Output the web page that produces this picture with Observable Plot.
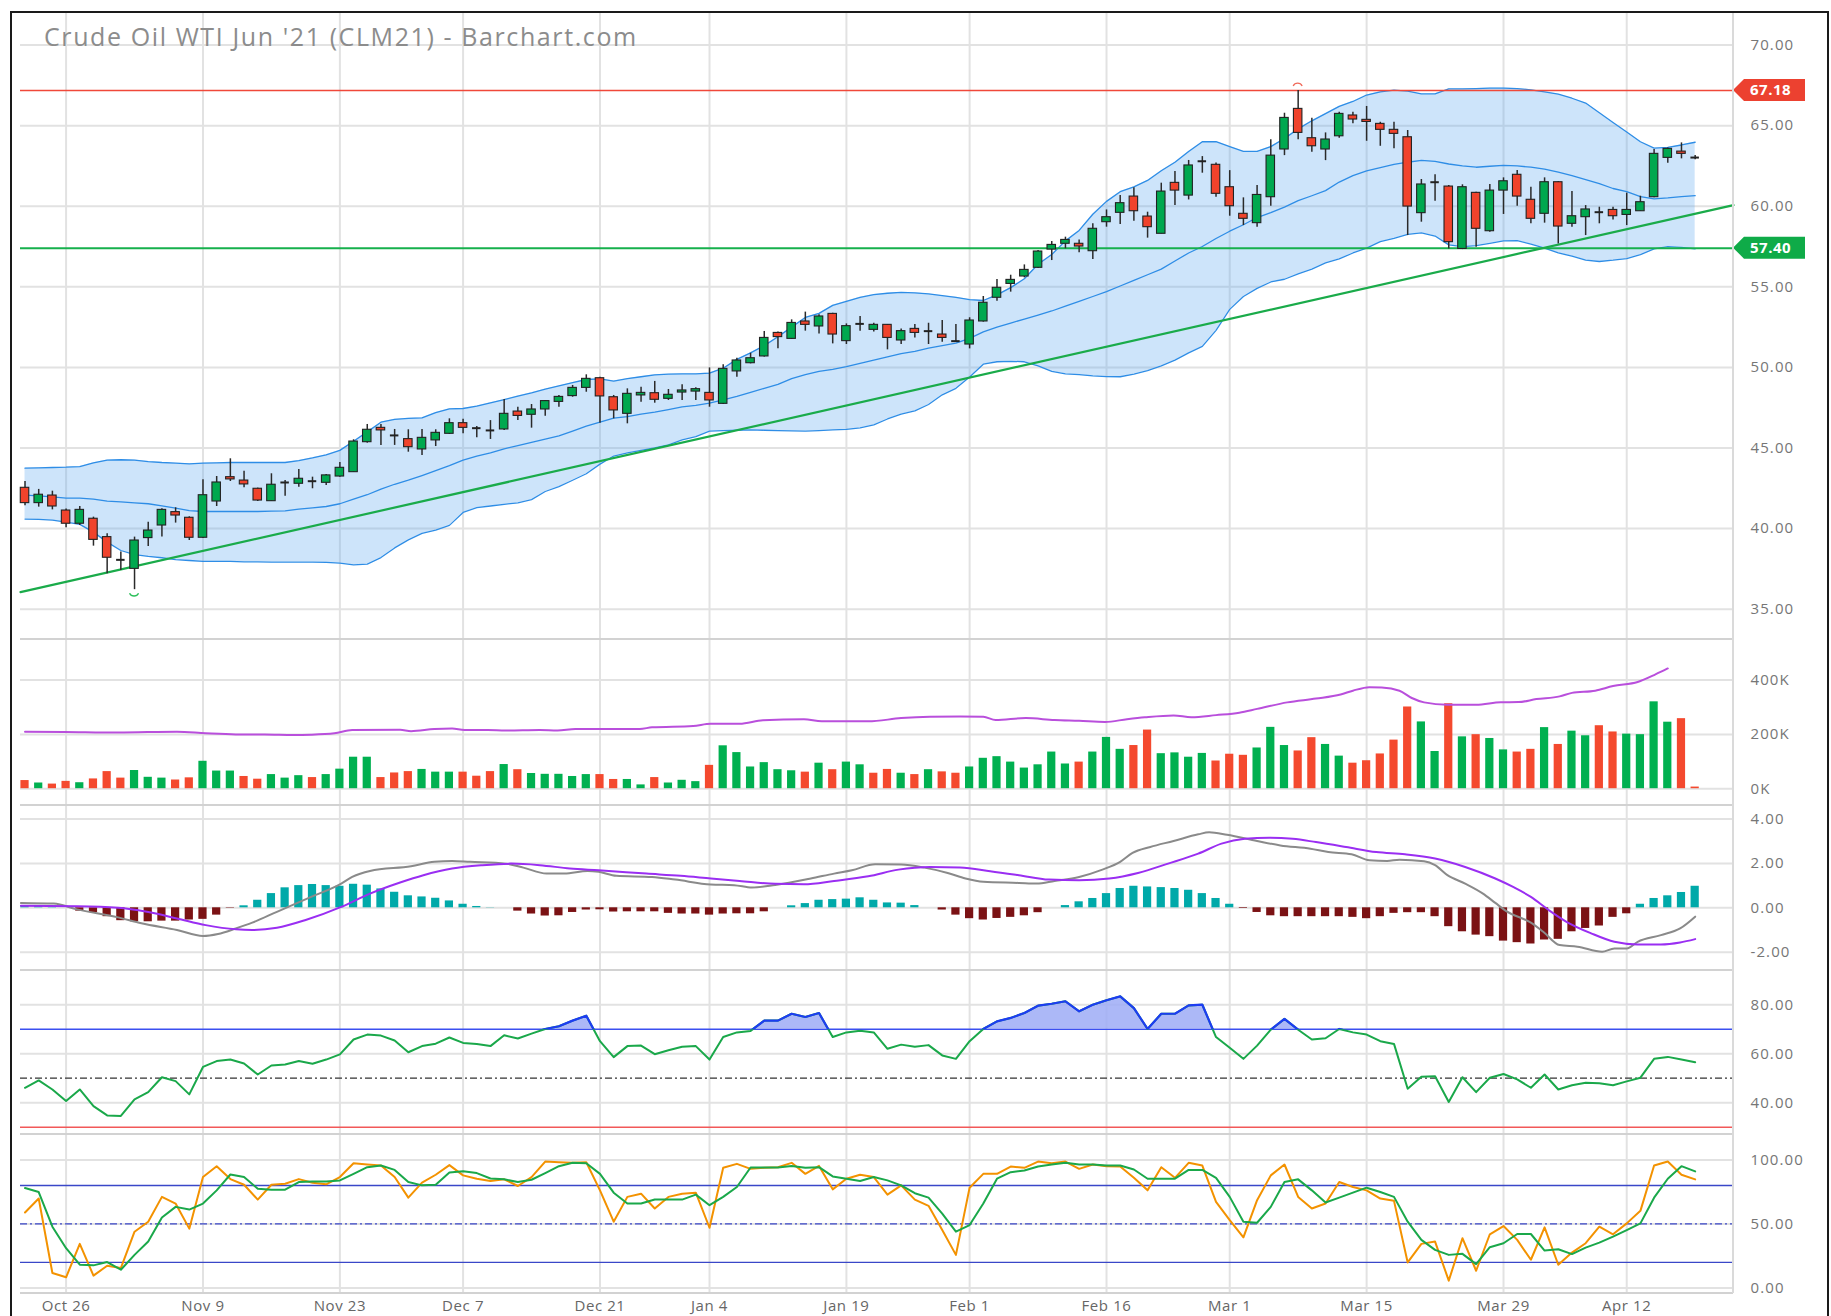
<!DOCTYPE html>
<html><head><meta charset="utf-8">
<script src="https://cdn.jsdelivr.net/npm/d3@7"></script>
<script src="https://cdn.jsdelivr.net/npm/@observablehq/plot@0.6"></script>
<style>
html,body{margin:0;padding:0;background:#fff;}
#chart{position:relative;width:1831px;height:1316px;overflow:hidden;background:#fff;}
.panel{position:absolute;left:0;}
.frame{position:absolute;left:10px;top:11px;width:1819px;height:1320px;border:2px solid #1a1a1a;box-sizing:border-box;pointer-events:none;}
.sep{position:absolute;left:20px;width:1713px;height:2px;background:#d2d2d2;}
.vline{position:absolute;left:1732px;top:12px;width:2px;height:1281px;background:#dadada;}
#title{position:absolute;left:44px;top:24px;font-family:"Open Sans",sans-serif;font-size:25px;line-height:25px;color:#8c8c8c;letter-spacing:1.6px;white-space:nowrap;}
</style>
</head><body>
<div id="chart"></div>
<script>
// ---------- DATA ----------
const tickIdx = [3,13,23,32,42,50,60,69,79,88,98,108,117];
const tickLabels = ["Oct 26","Nov 9","Nov 23","Dec 7","Dec 21","Jan 4","Jan 19","Feb 1","Feb 16","Mar 1","Mar 15","Mar 29","Apr 12"];
const titleText = "Crude Oil WTI Jun '21 (CLM21) - Barchart.com";

const open = [42.53,41.58,42.05,41.12,40.30,40.61,39.47,38.10,37.50,39.41,
40.19,41.02,40.67,39.43,41.68,43.19,42.98,42.47,41.70,42.84,
42.78,42.96,42.84,43.23,43.50,45.36,46.25,45.80,45.55,44.91,
45.47,45.88,46.54,46.25,46.11,46.15,47.26,47.06,47.39,47.86,
48.22,48.73,49.33,48.15,47.12,48.26,48.40,48.05,48.44,48.50,
48.42,47.74,49.75,50.26,50.68,52.14,51.77,52.85,52.54,53.32,
51.63,52.68,52.33,52.64,51.67,52.39,52.23,52.04,51.65,51.42,
52.85,54.32,55.18,55.64,56.18,57.31,57.67,57.67,57.21,59.01,
59.59,60.60,59.36,58.29,61.45,60.66,62.77,62.57,61.18,59.53,
58.95,60.56,63.52,66.04,64.22,63.52,64.34,65.63,65.36,65.11,
64.74,64.28,59.57,61.47,61.22,57.35,60.83,58.45,60.97,61.95,
60.40,59.53,61.49,58.91,59.32,59.65,59.77,59.46,59.69,60.56,
63.00,63.39,63.04];
const high = [42.92,42.43,42.32,41.21,41.37,40.71,39.68,38.54,39.47,40.40,
41.23,41.29,40.73,43.03,43.23,44.33,43.56,42.51,43.40,42.98,
43.67,43.19,43.36,44.10,45.51,46.46,46.46,46.15,46.13,46.15,
46.13,46.81,46.79,46.33,46.70,48.01,47.53,47.70,47.95,48.26,
48.88,49.54,49.39,48.26,48.67,48.77,49.13,48.63,48.92,48.73,
49.97,50.16,50.57,50.88,52.23,52.19,52.95,53.43,53.26,53.36,
52.70,53.16,52.74,52.66,52.39,52.66,52.74,52.91,52.66,53.08,
54.40,55.45,55.72,56.36,57.25,57.81,58.08,57.91,58.91,59.77,
60.66,61.14,59.63,61.43,62.15,62.84,63.08,62.69,62.21,60.52,
61.28,64.12,65.77,67.18,65.46,64.55,65.83,65.83,66.19,65.21,
65.21,64.70,61.66,61.95,61.28,61.33,60.87,61.35,61.76,62.21,
61.18,61.76,61.53,60.91,60.04,59.94,59.94,60.81,60.62,63.52,
63.62,63.93,63.15];
const low = [41.41,41.33,41.16,40.05,40.19,38.91,37.20,37.40,36.21,38.89,
39.47,40.34,39.26,39.39,41.37,42.92,42.53,41.68,41.70,42.01,
42.57,42.47,42.67,43.19,43.50,45.30,45.16,45.16,44.74,44.54,
45.09,45.84,45.88,45.63,45.53,46.09,46.70,46.23,46.97,47.53,
48.15,48.46,46.54,46.81,46.50,47.84,47.78,47.95,47.95,47.95,
47.53,47.70,49.39,50.22,50.64,51.15,51.73,52.25,52.08,51.46,
51.42,52.25,52.19,51.09,51.42,51.83,51.42,51.56,51.56,51.15,
52.81,54.11,54.67,55.56,56.14,56.63,57.36,57.11,56.69,58.70,
58.86,59.07,58.02,58.29,60.04,60.39,62.05,60.56,59.38,58.80,
58.70,60.00,63.14,64.12,63.35,62.83,64.22,65.11,64.03,63.72,
63.56,58.18,59.01,60.31,57.35,57.31,57.46,58.39,59.49,60.00,
58.91,58.95,57.66,58.70,58.18,58.91,59.15,58.80,59.69,60.52,
62.67,62.94,62.88];
const close = [41.58,42.10,41.37,40.30,41.16,39.30,38.19,38.06,39.26,39.88,
41.16,40.81,39.43,42.07,42.86,43.05,42.74,41.74,42.72,42.86,
43.09,42.94,43.30,43.77,45.40,46.13,46.09,45.78,45.05,45.63,
45.94,46.54,46.25,46.23,46.09,47.12,46.99,47.39,47.91,48.17,
48.73,49.29,48.20,47.33,48.36,48.42,47.99,48.30,48.57,48.65,
47.95,49.91,50.43,50.57,51.83,51.88,52.76,52.64,53.16,52.04,
52.56,52.70,52.64,51.83,52.25,52.14,52.25,51.83,51.63,52.91,
54.01,54.94,55.43,56.05,57.19,57.60,57.91,57.50,58.60,59.32,
60.19,59.69,58.70,60.91,60.97,62.53,62.79,60.77,60.00,59.22,
60.70,63.14,65.48,64.55,63.72,64.14,65.73,65.38,65.23,64.74,
64.49,59.98,61.35,61.49,57.77,61.18,58.60,60.97,61.55,60.60,
59.22,61.49,58.74,59.38,59.80,59.63,59.38,59.77,60.25,63.25,
63.56,63.25,63.02];

const bbUpper = [43.75,43.77,43.79,43.81,43.85,44.08,44.25,44.27,44.25,44.16,
44.10,44.06,44.02,44.06,44.08,44.10,44.10,44.10,44.10,44.10,
44.22,44.39,44.58,44.85,45.42,46.0,46.6,46.78,46.84,46.87,
47.2,47.43,47.45,47.6,47.8,48.0,48.22,48.42,48.65,48.85,
49.05,49.25,49.29,49.15,49.3,49.42,49.54,49.58,49.6,49.6,
49.65,49.95,50.5,50.9,51.35,51.9,52.5,53.1,53.35,53.85,
54.1,54.35,54.52,54.6,54.65,54.63,54.56,54.45,54.35,54.2,
54.15,54.5,54.95,55.5,56.4,57.0,57.85,58.5,59.5,60.3,
60.9,61.2,61.6,62.2,62.73,63.4,64.0,64.01,63.7,63.4,
63.4,63.7,64.2,64.8,65.3,65.75,66.2,66.5,66.9,67.1,
67.2,67.14,66.97,66.97,67.28,67.28,67.3,67.33,67.33,67.3,
67.22,67.1,66.95,66.7,66.4,65.8,65.2,64.6,64.0,63.6,
63.65,63.8,63.97];
const bbMiddle = [42.07,42.03,41.97,41.89,41.89,41.83,41.70,41.66,41.60,41.54,
41.41,41.27,41.12,41.06,41.06,41.06,41.06,41.06,41.08,41.10,
41.21,41.29,41.37,41.54,41.83,42.1,42.45,42.75,43.0,43.29,
43.6,43.9,44.25,44.5,44.7,44.95,45.15,45.35,45.55,45.75,
46.05,46.35,46.6,46.85,46.95,47.1,47.22,47.38,47.55,47.65,
47.78,47.98,48.2,48.45,48.7,48.95,49.3,49.55,49.75,49.88,
50.05,50.25,50.45,50.65,50.85,51.0,51.2,51.35,51.5,51.8,
52.2,52.5,52.75,53.0,53.25,53.5,53.8,54.1,54.4,54.7,
55.05,55.4,55.75,56.1,56.6,57.1,57.5,58.0,58.45,58.85,
59.3,59.6,59.95,60.35,60.65,60.97,61.5,61.9,62.2,62.4,
62.6,62.73,62.84,62.78,62.62,62.5,62.42,62.48,62.53,62.5,
62.42,62.3,62.11,61.9,61.65,61.4,61.1,60.9,60.6,60.46,
60.52,60.6,60.66];
const bbLower = [40.59,40.57,40.52,40.40,40.26,39.78,39.16,38.64,38.39,38.27,
38.19,38.08,38.02,37.96,37.96,37.96,37.94,37.94,37.92,37.92,
37.92,37.92,37.90,37.86,37.75,37.80,38.2,38.8,39.3,39.7,
39.9,40.2,41.0,41.3,41.4,41.5,41.6,41.8,42.3,42.6,
43.0,43.4,44.0,44.5,44.7,44.85,45.0,45.2,45.5,45.7,
46.05,46.08,46.1,46.12,46.1,46.08,46.06,46.05,46.08,46.12,
46.15,46.25,46.43,46.8,47.1,47.3,47.7,48.3,48.7,49.4,
50.2,50.35,50.38,50.35,50.1,49.75,49.6,49.55,49.47,49.43,
49.42,49.59,49.8,50.1,50.45,50.9,51.3,52.3,53.6,54.4,
54.9,55.3,55.47,55.8,56.1,56.48,56.73,57.1,57.4,57.8,
58.0,58.25,58.35,58.15,57.6,57.5,57.56,57.7,57.85,57.87,
57.65,57.4,57.1,56.9,56.65,56.57,56.65,56.75,57.0,57.35,
57.5,57.45,57.36];

const resistanceLevel = [67.18];
const supportLevel = [57.40];
const trendIdx = [-0.33, 124.8];
const trendPrice = [36.06, 60.07];

const volumeK = [30,21,17,27,22,36,63,39,67,42,
39,32,40,101,65,65,45,35,52,39,
48,41,52,72,116,116,41,58,63,71,
61,61,61,46,63,89,70,56,53,53,
45,52,52,34,34,14,41,21,31,26,
86,158,133,80,96,70,66,61,94,70,
98,88,57,71,57,52,70,62,57,80,
112,118,98,76,88,135,91,98,135,189,
145,159,216,129,132,116,130,102,127,123,
150,226,159,139,188,163,120,94,103,128,
179,301,246,137,313,191,199,185,143,135,
145,225,163,212,195,232,209,201,199,320,
245,258,6];

const oiIdx = [0,2.9,6.8,11.1,13.2,15.4,17.5,19.6,20.9,22.6,23.9,27.4,28.2,29.9,31.2,32.1,33.8,35.1,37.6,38.9,40.2,44.9,45.8,48.8,50.1,52.2,53.9,56.9,58.2,61.6,64.0,66.1,68.3,70.0,70.9,73.1,75.2,77.0,78.9,80.5,81.8,83.9,85.2,87.0,88.7,90.0,92.2,94.3,96.1,97.0,98.2,99.1,100.4,101.3,102.2,103.9,106.0,107.8,109.1,110.4,112.1,113.0,114.7,116.0,117.8,119.1,120.0];
const oiK = [210,209,207,210,204,200,200,198,199,204,216,217,212,220,222,216,216,214,216,214,220,220,226,231,239,239,252,256,248,248,260,265,266,265,253,260,253,250,246,256,263,270,263,271,280,294,318,332,347,361,374,373,361,334,318,309,309,318,319,330,340,353,361,378,393,421,443];

const macdIdx = [-0.3,2.1,3.8,6.8,8.5,11.1,13.0,14.1,15.4,16.6,18.4,20.9,23.1,23.9,25.2,28.2,29.9,31.2,32.5,35.1,36.4,38.1,39.4,41.1,41.9,43.2,45.8,47.5,50.1,51.8,53.1,54.8,57.4,59.1,60.4,62.1,64.0,65.7,67.4,68.7,70.0,72.6,73.9,75.2,77.0,78.7,80.0,80.9,82.2,83.9,85.7,86.5,87.8,90.0,91.7,93.9,95.2,96.9,98.2,99.5,100.4,102.2,103.0,103.9,105.2,106.5,107.4,108.2,110.0,110.9,112.1,113.4,115.2,116.1,117.0,117.8,119.5,120.9,122.0];
const macdVal = [0.22,0.19,-0.07,-0.43,-0.70,-1.00,-1.27,-1.18,-0.93,-0.67,-0.18,0.49,1.09,1.39,1.66,1.87,2.07,2.11,2.07,1.99,1.81,1.54,1.54,1.66,1.62,1.44,1.39,1.27,1.05,1.02,0.91,1.03,1.32,1.54,1.69,1.96,1.95,1.81,1.57,1.32,1.17,1.12,1.09,1.21,1.39,1.72,2.07,2.47,2.74,3.01,3.31,3.40,3.29,3.01,2.81,2.66,2.51,2.41,2.14,2.11,2.17,2.10,1.92,1.47,1.09,0.64,0.22,-0.15,-0.67,-1.08,-1.68,-1.75,-1.98,-1.83,-1.83,-1.53,-1.23,-0.93,-0.40];
const signalIdx = [-0.3,3.8,6.8,8.9,11.1,13.2,15.4,16.6,18.4,20.5,23.1,25.2,27.4,29.1,31.2,33.4,35.5,37.6,39.8,41.9,45.4,47.9,50.1,52.2,54.8,56.9,59.1,61.6,63.8,66.1,68.3,70.5,72.6,74.8,77.0,79.2,81.3,83.5,85.7,87.4,89.1,90.9,92.6,94.3,96.5,98.7,100.8,103.0,105.2,107.4,108.7,110.0,111.3,112.6,114.4,116.1,117.8,119.5,120.9,122.0];
const signalVal = [0.09,0.07,0.0,-0.18,-0.48,-0.78,-0.97,-1.00,-0.90,-0.55,0.04,0.64,1.14,1.47,1.77,1.92,1.99,1.92,1.77,1.69,1.54,1.44,1.32,1.21,1.08,1.06,1.21,1.42,1.72,1.84,1.81,1.65,1.47,1.27,1.24,1.32,1.57,1.99,2.44,2.89,3.11,3.16,3.11,2.96,2.74,2.51,2.41,2.22,1.84,1.32,0.94,0.49,-0.10,-0.63,-1.15,-1.53,-1.65,-1.65,-1.56,-1.41];
const macdHist = [0.10,0.10,0.07,0.0,-0.15,-0.22,-0.40,-0.58,-0.63,-0.63,
-0.60,-0.60,-0.55,-0.52,-0.33,-0.02,0.09,0.34,0.64,0.90,
1.00,1.05,1.00,0.97,1.06,1.02,0.85,0.70,0.54,0.49,
0.43,0.31,0.16,0.06,0.01,0.0,-0.15,-0.28,-0.37,-0.36,
-0.21,-0.10,-0.09,-0.19,-0.18,-0.18,-0.18,-0.25,-0.28,-0.28,
-0.33,-0.28,-0.27,-0.27,-0.18,0.0,0.09,0.19,0.34,0.37,
0.39,0.45,0.34,0.22,0.21,0.10,0.0,-0.10,-0.33,-0.49,
-0.55,-0.48,-0.43,-0.36,-0.22,0.0,0.10,0.27,0.42,0.64,
0.87,0.97,0.94,0.91,0.87,0.79,0.64,0.42,0.16,-0.03,
-0.21,-0.36,-0.40,-0.40,-0.40,-0.40,-0.40,-0.43,-0.49,-0.40,
-0.25,-0.22,-0.22,-0.40,-0.85,-1.08,-1.23,-1.30,-1.50,-1.57,
-1.63,-1.45,-1.42,-1.08,-0.93,-0.82,-0.43,-0.27,0.16,0.42,
0.54,0.69,0.97];

const rsi = [46.1,49.1,45.4,40.7,45.4,38.6,34.8,34.6,41.4,44.3,
50.4,48.8,43.4,54.6,57.0,57.6,56.0,51.5,55.2,55.6,
57.0,55.9,57.6,59.7,65.8,67.8,67.4,65.4,60.6,63.1,
64.1,66.6,64.4,64.0,63.1,67.5,66.2,68.2,70.1,71.2,
73.5,75.5,65.1,58.6,63.1,63.3,59.8,61.4,62.8,63.1,
57.6,66.8,68.7,69.3,73.5,73.5,76.3,75.0,76.6,66.8,
68.7,69.4,68.7,62.0,63.7,62.8,63.5,59.3,57.9,65.1,
70.1,73.2,74.6,76.6,79.6,80.4,81.4,77.3,80.0,81.8,
83.4,78.6,70.1,76.3,76.3,79.7,80.0,66.8,62.4,57.9,
63.3,69.8,74.2,69.8,65.8,66.3,70.1,68.7,67.8,65.1,
64.0,45.7,50.6,50.8,40.3,50.4,44.3,50.2,51.7,49.5,
46.1,51.5,45.4,47.1,48.1,47.9,47.1,48.7,50.2,57.9,
58.7,57.6,56.5];
const rsiLevels = {upper: 70, mid: 50, lower: 30};

const stochK = [58.9,69.8,11.6,8.3,34.4,9.6,17.3,15.5,43.9,51.7,
71.1,65.9,46.3,86.6,95.1,85.0,80.6,69.0,80.6,81.4,
85.0,82.2,80.9,86.6,97.4,96.4,95.6,86.6,70.5,82.2,
88.4,95.9,87.9,85.3,83.5,84.8,79.6,86.6,98.7,98.2,
97.7,98.2,76.2,51.7,71.1,73.6,62.0,71.1,73.6,74.4,
47.0,93.8,96.9,93.0,93.8,94.3,97.7,89.1,95.3,77.0,
85.3,88.4,86.6,72.9,80.1,69.0,64.1,45.2,25.8,78.3,
89.1,89.1,94.8,93.8,98.7,97.4,98.7,93.0,96.4,95.1,
94.8,86.0,76.2,94.3,86.0,97.7,95.6,67.2,53.0,39.5,
68.5,87.9,96.4,71.1,62.0,65.9,82.7,78.8,76.2,69.8,
68.0,19.9,34.4,36.2,5.7,38.8,13.4,41.9,48.3,37.5,
22.0,47.3,18.1,27.6,34.9,47.8,41.9,50.4,60.2,95.6,
98.7,88.4,84.8];
const stochD = [78.0,74.9,47.8,31.0,18.1,17.6,20.2,14.2,25.8,36.2,
55.0,63.3,61.2,65.9,76.2,88.6,86.6,77.5,76.7,76.7,
82.7,83.2,83.2,84.0,89.1,94.3,95.6,92.2,82.7,80.1,
80.6,90.2,91.2,89.7,85.5,84.8,82.7,84.5,89.7,95.1,
97.7,97.4,89.1,74.4,65.9,65.9,69.0,69.0,69.0,72.9,
64.6,71.1,78.8,94.1,94.1,94.1,95.3,93.8,94.3,87.1,
85.3,83.5,86.6,84.0,80.1,74.0,70.5,58.1,43.9,49.1,
65.9,85.3,90.4,91.7,94.8,96.4,97.7,96.4,96.4,95.6,
95.6,92.5,85.3,85.3,85.3,92.2,92.2,86.0,71.1,51.7,
50.9,63.3,82.7,84.8,76.2,66.7,70.5,74.4,78.3,74.9,
71.1,51.7,37.5,29.7,25.8,26.6,18.6,31.8,34.9,42.1,
42.1,29.2,30.2,26.4,31.5,35.4,40.1,45.2,50.4,70.5,
85.3,95.1,91.0];
const stochLevels = {upper: 80, mid: 50, lower: 20};

const priceTicks = [35,40,45,50,55,60,65,70];
const volTicks = [0,200,400];
const macdTicks = [-2,0,2,4];
const rsiTicks = [40,60,80];
const stochTicks = [0,50,100];

// ---------- STYLE / LAYOUT ----------
const W = 1831;
const XD = [-0.33, 124.8];
const GRID = "#e2e2e2";
const GREEN = "#00a84f", RED = "#f0432c";
const VGREEN = "#00b050", VRED = "#f4492e";
const BAND = "#2e8de6";
const axisStyle = "font-family:'Open Sans',sans-serif;font-size:15px;letter-spacing:1.1px;color:#767676;overflow:visible;background:transparent;max-width:none;";
const fmt2 = d => d.toFixed(2);
const root = document.getElementById("chart");

function place(svg, top) {
  const wrap = document.createElement("div");
  wrap.className = "panel";
  wrap.style.top = top + "px";
  wrap.appendChild(svg);
  root.appendChild(wrap);
}
function opts(h, yDomain, yTicks, yFmt, marks, mb = 0, xAxis = false) {
  return {
    width: W, height: h, marginLeft: 20, marginRight: 98, marginTop: 0, marginBottom: mb,
    x: xAxis ? {domain: XD, ticks: tickIdx, tickFormat: d => tickLabels[tickIdx.indexOf(d)], tickSize: 0, tickPadding: 7, label: null}
             : {domain: XD, axis: null},
    y: {domain: yDomain, axis: "right", ticks: yTicks, tickFormat: yFmt, tickSize: 0, tickPadding: 17, label: null},
    style: axisStyle,
    marks
  };
}
const vGrid = Plot.ruleX(tickIdx, {stroke: GRID, strokeWidth: 2});

// ---------- PRICE PANEL ----------
const candles = open.map((o, i) => ({i, o, h: high[i], l: low[i], c: close[i]}));
const isDoji = d => Math.abs(d.c - d.o) < 0.05;
const bands = bbUpper.map((u, i) => ({i, u, m: bbMiddle[i], l: bbLower[i]}));
const trend = trendIdx.map((x, k) => ({i: x, p: trendPrice[k]}));
const hw = 0.31;

const pricePlot = Plot.plot(opts(626, [33.18, 72.02], priceTicks, fmt2, [
  Plot.ruleY(priceTicks, {stroke: GRID, strokeWidth: 2}),
  vGrid,
  Plot.areaY(bands, {x: "i", y1: "l", y2: "u", fill: "#5aa5ee", fillOpacity: 0.3}),
  Plot.line(bands, {x: "i", y: "u", stroke: BAND, strokeWidth: 1.3}),
  Plot.line(bands, {x: "i", y: "m", stroke: BAND, strokeWidth: 1.3}),
  Plot.line(bands, {x: "i", y: "l", stroke: BAND, strokeWidth: 1.3}),
  Plot.ruleY(resistanceLevel, {stroke: "#f0483a", strokeWidth: 1.6}),
  Plot.ruleY(supportLevel, {stroke: "#16b04c", strokeWidth: 2}),
  Plot.line(trend, {x: "i", y: "p", stroke: "#1aab4a", strokeWidth: 2.2}),
  Plot.ruleX(candles, {x: "i", y1: "l", y2: "h", stroke: "#2a2a2a", strokeWidth: 1.5}),
  Plot.rect(candles.filter(d => !isDoji(d) && d.c > d.o), {x1: d => d.i - hw, x2: d => d.i + hw, y1: "o", y2: "c", fill: GREEN, stroke: "#222", strokeWidth: 1.1}),
  Plot.rect(candles.filter(d => !isDoji(d) && d.c < d.o), {x1: d => d.i - hw, x2: d => d.i + hw, y1: "o", y2: "c", fill: RED, stroke: "#222", strokeWidth: 1.1}),
  Plot.ruleY(candles.filter(isDoji), {x1: d => d.i - hw, x2: d => d.i + hw, y: "c", stroke: "#222", strokeWidth: 2})
]));
place(pricePlot, 12);
{
  const xs = pricePlot.scale("x"), ys = pricePlot.scale("y");
  const svg = d3.select(pricePlot);
  const edge = xs.apply(XD[1]);
  function tag(v, color) {
    const y = ys.apply(v);
    svg.append("path").attr("d", `M${edge},${y} L${edge + 11},${y - 11} L${edge + 72},${y - 11} L${edge + 72},${y + 11} L${edge + 11},${y + 11} Z`).attr("fill", color);
    svg.append("text").attr("x", edge + 17).attr("y", y).attr("dy", "0.36em").attr("fill", "#fff")
      .attr("text-anchor", "start").attr("font-weight", "bold").attr("font-size", 15)
      .attr("letter-spacing", "0.5px").text(v.toFixed(2));
  }
  tag(resistanceLevel[0], "#ec4130");
  tag(supportLevel[0], "#0fab48");
  const hi = d3.maxIndex(high), lo = d3.minIndex(low);
  const hx = xs.apply(hi), hy = ys.apply(high[hi]) - 6;
  svg.append("path").attr("d", `M${hx - 4.5},${hy + 2} A5,5 0 0 1 ${hx + 4.5},${hy + 2}`).attr("fill", "none").attr("stroke", "#f06a5a").attr("stroke-width", 1.3);
  const lx = xs.apply(lo), ly = ys.apply(low[lo]) + 6;
  svg.append("path").attr("d", `M${lx - 4.5},${ly - 2} A5,5 0 0 0 ${lx + 4.5},${ly - 2}`).attr("fill", "none").attr("stroke", "#2cbf5a").attr("stroke-width", 1.3);
}

// ---------- VOLUME PANEL ----------
const vol = volumeK.map((v, i) => ({i, v, up: i === 0 ? close[0] >= open[0] : close[i] >= close[i - 1]}));
const oi = oiIdx.map((x, k) => ({i: x, v: oiK[k]}));
const volPlot = Plot.plot(opts(164, [-58.2, 545.9], volTicks, d => d + "K", [
  Plot.ruleY(volTicks, {stroke: GRID, strokeWidth: 2}),
  vGrid,
  Plot.rect(vol.filter(d => d.up), {x1: d => d.i - 0.3, x2: d => d.i + 0.3, y1: 0, y2: "v", fill: VGREEN}),
  Plot.rect(vol.filter(d => !d.up), {x1: d => d.i - 0.3, x2: d => d.i + 0.3, y1: 0, y2: "v", fill: VRED}),
  Plot.line(oi, {x: "i", y: "v", stroke: "#b94fdc", strokeWidth: 2, curve: "monotone-x"})
]));
place(volPlot, 640);

// ---------- MACD PANEL ----------
const hist = macdHist.map((v, i) => ({i, v}));
const macd = macdIdx.map((x, k) => ({i: x, v: macdVal[k]}));
const sig = signalIdx.map((x, k) => ({i: x, v: signalVal[k]}));
const macdPlot = Plot.plot(opts(163, [-2.779, 4.563], macdTicks, fmt2, [
  Plot.ruleY(macdTicks, {stroke: GRID, strokeWidth: 2}),
  vGrid,
  Plot.rect(hist.filter(d => d.v >= 0), {x1: d => d.i - 0.3, x2: d => d.i + 0.3, y1: 0, y2: "v", fill: "#00a9a9"}),
  Plot.rect(hist.filter(d => d.v < 0), {x1: d => d.i - 0.3, x2: d => d.i + 0.3, y1: 0, y2: "v", fill: "#7b1214"}),
  Plot.line(macd, {x: "i", y: "v", stroke: "#8a8a8a", strokeWidth: 2, curve: "monotone-x"}),
  Plot.line(sig, {x: "i", y: "v", stroke: "#9a2ef2", strokeWidth: 2, curve: "monotone-x"})
]));
place(macdPlot, 806);

// ---------- RSI PANEL ----------
const rsiData = rsi.map((v, i) => ({i, v}));
const rsiPlot = Plot.plot(opts(162, [27.43, 93.55], rsiTicks, fmt2, [
  Plot.ruleY(rsiTicks, {stroke: GRID, strokeWidth: 2}),
  vGrid,
  Plot.ruleY([rsiLevels.upper], {stroke: "#3b4ff0", strokeWidth: 1.5}),
  Plot.ruleY([rsiLevels.lower], {stroke: "#f25858", strokeWidth: 1.5}),
  Plot.ruleY([rsiLevels.mid], {stroke: "#333", strokeWidth: 1.2, strokeDasharray: "7,3,2,3"}),
  Plot.areaY(rsiData, {x: "i", y1: rsiLevels.upper, y2: "v", fill: "#9eabf6", fillOpacity: 0.85, ariaDescription: "rsi-over"}),
  Plot.line(rsiData, {x: "i", y: "v", stroke: "#1aa84a", strokeWidth: 2}),
  Plot.line(rsiData, {x: "i", y: "v", stroke: "#1d3cf2", strokeWidth: 2.2, ariaDescription: "rsi-over"})
]));
place(rsiPlot, 971);
{
  const svg = d3.select(rsiPlot);
  const y70 = rsiPlot.scale("y").apply(rsiLevels.upper);
  svg.append("defs").append("clipPath").attr("id", "rsiclip")
    .append("rect").attr("x", 0).attr("y", -10).attr("width", W).attr("height", y70 + 10);
  svg.selectAll('[aria-description="rsi-over"]').attr("clip-path", "url(#rsiclip)");
}

// ---------- STOCHASTICS PANEL ----------
const kData = stochK.map((v, i) => ({i, v}));
const dData = stochD.map((v, i) => ({i, v}));
const stochPlot = Plot.plot(opts(181, [-4.375, 119.06], stochTicks, fmt2, [
  Plot.ruleY(stochTicks, {stroke: GRID, strokeWidth: 2}),
  vGrid,
  Plot.ruleY([stochLevels.upper, stochLevels.lower], {stroke: "#3a47c8", strokeWidth: 1.3}),
  Plot.ruleY([stochLevels.mid], {stroke: "#3a47c8", strokeWidth: 1.2, strokeDasharray: "7,3,2,3"}),
  Plot.line(kData, {x: "i", y: "v", stroke: "#f39200", strokeWidth: 2}),
  Plot.line(dData, {x: "i", y: "v", stroke: "#1aa84a", strokeWidth: 2})
], 23, true));
place(stochPlot, 1135);
d3.select(stochPlot).selectAll('[aria-label="x-axis tick label"] text, [aria-label="x-axis"] text').attr("font-size", 15).attr("fill", "#666").attr("letter-spacing", "0.6px");

// ---------- decorations ----------
for (const y of [638, 804, 969, 1133, 1292]) {
  const s = document.createElement("div"); s.className = "sep"; s.style.top = y + "px"; root.appendChild(s);
}
const vl = document.createElement("div"); vl.className = "vline"; root.appendChild(vl);
const t = document.createElement("div"); t.id = "title"; t.textContent = titleText; root.appendChild(t);
const fr = document.createElement("div"); fr.className = "frame"; root.appendChild(fr);
</script>
</body></html>
